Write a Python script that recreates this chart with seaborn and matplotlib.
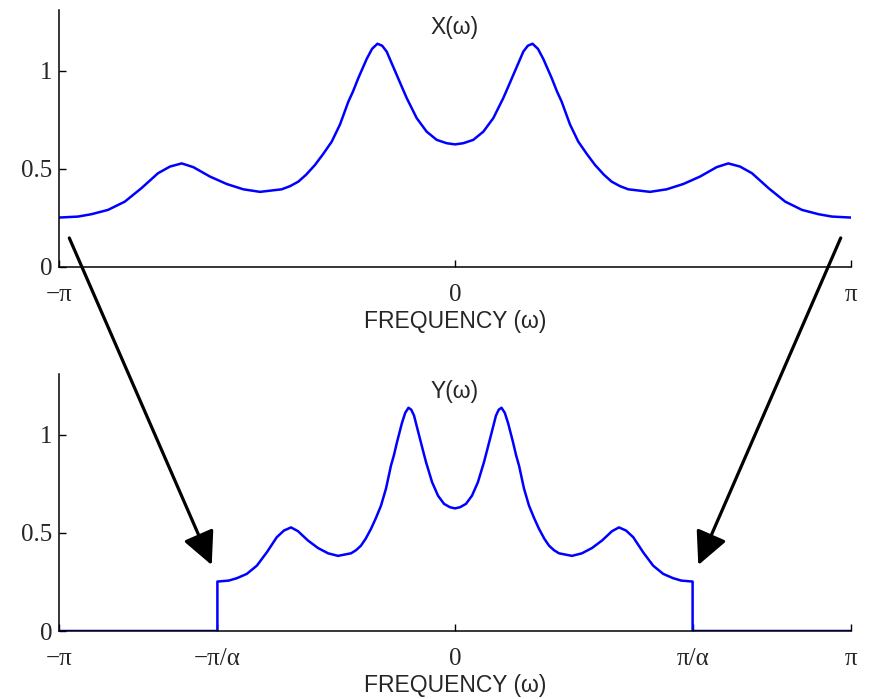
import numpy as np
import pandas as pd
import matplotlib
matplotlib.use("Agg")
import matplotlib.pyplot as plt
import seaborn as sns
from matplotlib.patches import ConnectionPatch, ArrowStyle

# ---------------- data ----------------
ALPHA = 5 / 3

x_freq = [-3.1416, -2.991, -2.885, -2.753, -2.620, -2.489, -2.356, -2.261, -2.168,
          -2.076, -1.944, -1.811, -1.679, -1.547, -1.375, -1.309, -1.243, -1.182,
          -1.111, -1.047, -0.978, -0.912, -0.846, -0.809, -0.767, -0.701, -0.658,
          -0.615, -0.578, -0.542, -0.500, -0.463, -0.423, -0.383, -0.304, -0.225,
          -0.145, -0.066, 0.0,
          0.066, 0.145, 0.225, 0.304, 0.383, 0.423, 0.463, 0.500, 0.542, 0.578,
          0.615, 0.658, 0.701, 0.767, 0.809, 0.846, 0.912, 0.978, 1.047, 1.111,
          1.182, 1.243, 1.309, 1.375, 1.547, 1.679, 1.811, 1.944, 2.076, 2.168,
          2.261, 2.356, 2.489, 2.620, 2.753, 2.885, 2.991, 3.1416]
x_mag = [0.252, 0.257, 0.269, 0.291, 0.333, 0.401, 0.478, 0.512, 0.528,
         0.509, 0.461, 0.423, 0.396, 0.383, 0.396, 0.412, 0.435, 0.470,
         0.520, 0.575, 0.639, 0.727, 0.843, 0.895, 0.963, 1.060, 1.112,
         1.138, 1.128, 1.098, 1.035, 0.980, 0.920, 0.861, 0.759, 0.690,
         0.648, 0.631, 0.625,
         0.631, 0.648, 0.690, 0.759, 0.861, 0.920, 0.980, 1.035, 1.098, 1.128,
         1.138, 1.112, 1.060, 0.963, 0.895, 0.843, 0.727, 0.639, 0.575, 0.520,
         0.470, 0.435, 0.412, 0.396, 0.383, 0.396, 0.423, 0.461, 0.509, 0.528,
         0.512, 0.478, 0.401, 0.333, 0.291, 0.269, 0.257, 0.252]

y_freq = [-3.1416, -1.885, -1.885, -1.795, -1.731, -1.652, -1.572, -1.493, -1.414,
          -1.357, -1.301, -1.246, -1.166, -1.087, -1.007, -0.928, -0.825, -0.785,
          -0.746, -0.709, -0.667, -0.628, -0.587, -0.547, -0.508, -0.485, -0.460,
          -0.421, -0.395, -0.369, -0.347, -0.325, -0.300, -0.278, -0.254, -0.230,
          -0.182, -0.135, -0.087, -0.040, 0.0,
          0.040, 0.087, 0.135, 0.182, 0.230, 0.254, 0.278, 0.300, 0.325, 0.347,
          0.369, 0.395, 0.421, 0.460, 0.485, 0.508, 0.547, 0.587, 0.628, 0.667,
          0.709, 0.746, 0.785, 0.825, 0.928, 1.007, 1.087, 1.166, 1.246, 1.301,
          1.357, 1.414, 1.493, 1.572, 1.652, 1.731, 1.795, 1.885, 1.885, 3.1416]
y_mag = [0.0, 0.0, 0.252, 0.257, 0.269, 0.291, 0.333, 0.401, 0.478,
         0.512, 0.528, 0.509, 0.461, 0.423, 0.396, 0.383, 0.396, 0.412,
         0.435, 0.470, 0.520, 0.575, 0.639, 0.727, 0.843, 0.895, 0.963,
         1.060, 1.112, 1.138, 1.128, 1.098, 1.035, 0.980, 0.920, 0.861,
         0.759, 0.690, 0.648, 0.631, 0.625,
         0.631, 0.648, 0.690, 0.759, 0.861, 0.920, 0.980, 1.035, 1.098, 1.128,
         1.138, 1.112, 1.060, 0.963, 0.895, 0.843, 0.727, 0.639, 0.575, 0.520,
         0.470, 0.435, 0.412, 0.396, 0.383, 0.396, 0.423, 0.461, 0.509, 0.528,
         0.512, 0.478, 0.401, 0.333, 0.291, 0.269, 0.257, 0.252, 0.0, 0.0]

top_xticks = [-np.pi, 0, np.pi]
top_xticklabels = ["\u2212\u03c0", "0", "\u03c0"]
bot_xticks = [-np.pi, -np.pi / ALPHA, 0, np.pi / ALPHA, np.pi]
bot_xticklabels = ["\u2212\u03c0", "\u2212\u03c0/\u03b1", "0", "\u03c0/\u03b1", "\u03c0"]
yticks = [0, 0.5, 1]
yticklabels = ["0", "0.5", "1"]
titles = ["X(\u03c9)", "Y(\u03c9)"]
xlabel = "FREQUENCY (\u03c9)"

# ---------------- figure ----------------
sns.set_style("ticks")
plt.rcParams['font.family'] = ['Liberation Sans', 'DejaVu Sans']

W, H = 871, 699
fig = plt.figure(figsize=(W / 100, H / 100), dpi=100)
ax1 = fig.add_axes([59 / W, 1 - 267 / H, 792 / W, 257 / H])
ax2 = fig.add_axes([59 / W, 1 - 631 / H, 792 / W, 257 / H])

df_x = pd.DataFrame({"freq": x_freq, "mag": x_mag})
df_y = pd.DataFrame({"freq": y_freq, "mag": y_mag})

serif = ['Liberation Serif', 'DejaVu Serif']

for ax, df, title, xt, xtl in [(ax1, df_x, titles[0], top_xticks, top_xticklabels),
                               (ax2, df_y, titles[1], bot_xticks, bot_xticklabels)]:
    sns.lineplot(data=df, x="freq", y="mag", ax=ax, color="#0000ff", lw=1.8,
                 estimator=None, sort=False)
    ax.set_xlim(-np.pi, np.pi)
    ax.set_ylim(0, 1.31)
    sns.despine(ax=ax)
    for s in ["left", "bottom"]:
        ax.spines[s].set_linewidth(1.1)
        ax.spines[s].set_color("black")
    ax.set_xticks(xt)
    ax.set_xticklabels(xtl, family=serif, fontsize=18)
    ax.set_yticks(yticks)
    ax.set_yticklabels(yticklabels, family=serif, fontsize=18)
    ax.tick_params(axis="both", direction="in", length=5, width=1, color="black")
    ax.tick_params(axis="x", pad=12)
    ax.tick_params(axis="y", pad=5)
    ax.set_xlabel(xlabel, fontsize=16.5, labelpad=3)
    ax.set_ylabel("")
    ax.text(0, 1.22, title, ha="center", va="center", fontsize=16.5)

style = ArrowStyle("-|>", head_length=0.45, head_width=0.22)
for xa, ya, xb, yb in [(-3.06, 0.148, -1.93, 0.336), (3.06, 0.148, 1.93, 0.336)]:
    con = ConnectionPatch(xyA=(xa, ya), coordsA=ax1.transData,
                          xyB=(xb, yb), coordsB=ax2.transData,
                          arrowstyle=style, mutation_scale=45, lw=2.3,
                          color="black", shrinkA=0, shrinkB=0)
    fig.add_artist(con)

fig.savefig("out.png", dpi=100)
